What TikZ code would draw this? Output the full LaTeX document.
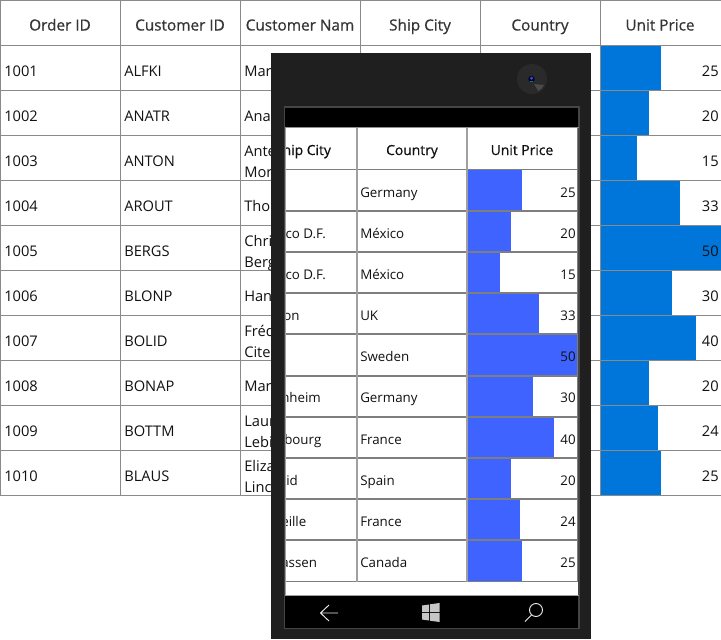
\documentclass[tikz,border=0pt]{standalone}
\usepackage{fontspec}
\setmainfont{Open Sans}
\newfontfamily\semib[FakeBold=0.6]{Open Sans}
\definecolor{gridc}{HTML}{8A8A8A}
\definecolor{gridi}{HTML}{A0A0A0}
\definecolor{gridh}{HTML}{7E7E7E}
\definecolor{barout}{HTML}{0076DA}
\definecolor{barin}{HTML}{3F63FF}
\definecolor{phone}{HTML}{1F1F1F}
\definecolor{rim}{HTML}{454545}
\definecolor{txt}{HTML}{111111}
\tikzset{
  outcell/.style={anchor=base west,inner sep=0pt,font=\fontsize{11pt}{13pt}\selectfont,text=txt},
  outval/.style={anchor=base east,inner sep=0pt,font=\fontsize{11pt}{13pt}\selectfont,text=txt},
  outhead/.style={anchor=base,inner sep=0pt,font=\fontsize{11.5pt}{13pt}\selectfont\semib,text=txt!85!white},
  incell/.style={anchor=base west,inner sep=0pt,font=\fontsize{10pt}{12pt}\selectfont,text=txt},
  inval/.style={anchor=base east,inner sep=0pt,font=\fontsize{10pt}{12pt}\selectfont,text=txt},
  inhead/.style={anchor=base,inner sep=0pt,font=\fontsize{10.4pt}{12pt}\selectfont\semib,text=txt},
  navicon/.style={draw=white!85!gray,line width=0.7pt},
}
\begin{document}
\begin{tikzpicture}[x=0.75pt,y=-0.75pt]
\useasboundingbox (0,0) rectangle (721,639);
\fill[white] (0,0) rectangle (721,639);
% outer bars
\foreach \r/\e in {0/661,1/649,2/637,3/680,4/721,5/672,6/696,7/649,8/658,9/661}
  \fill[barout] (601,45+45*\r) rectangle (\e,90+45*\r);
% outer grid
\foreach \x in {0.5,120.5,240.5,360.5,480.5,600.5}
  \draw[gridc,line width=0.75pt] (\x,0) -- (\x,495.5);
\foreach \y in {0.5,45.5,90.5,135.5,180.5,225.5,270.5,315.5,360.5,405.5,450.5,495.5}
  \draw[gridc,line width=0.75pt] (0,\y) -- (721,\y);
% outer header
\node[outhead] (h1) at (60,30.5) {Order ID};
\node[outhead] (h2) at (180,30.5) {Customer ID};
\node[outhead] (h3) at (300,30.5) {Customer Nam};
\node[outhead] (h4) at (420,30.5) {Ship City};
\node[outhead] (h5) at (540,30.5) {Country};
\node[outhead] (h6) at (660,30.5) {Unit Price};
% outer rows
\foreach \r/\a/\b/\v in {0/1001/ALFKI/25,1/1002/ANATR/20,2/1003/ANTON/15,3/1004/AROUT/33,4/1005/BERGS/50,5/1006/BLONP/30,6/1007/BOLID/40,7/1008/BONAP/20,8/1009/BOTTM/24,9/1010/BLAUS/25}{
  \node[outcell] (oid\r) at (4,76+45*\r) {\a};
  \node[outcell] (cid\r) at (124,76+45*\r) {\b};
  \node[outval] (val\r) at (719,76+45*\r) {\v};
}
\foreach \n/\y/\t in {a/76/Mar,b/121/Ana,c/156/Ante,d/177/Mor,e/211/Tho,f/246/Chri,g/267/Berg,h/301/Han,i/336/Fréd,j/357/Cite,k/391/Mar,l/426/Laur,m/447/Lebi,n/471/Eliza,o/492/Linc}
  \node[outcell] (nm\n) at (244,\y) {\t};
% phone body
\fill[phone] (271,53) rectangle (591,639);
\fill[black] (284.5,107) rectangle (579,628.5);
\draw[rim,line width=0.9pt] (284.5,107) rectangle (579,628.5);
\fill[white] (286,127) rectangle (578,596);
% camera
\fill[white,opacity=0.05] (532,79) circle (15);
\fill[gray!45!phone] (534,84) -- (544,85) arc (25:62:13) -- cycle;
\fill[black!80!blue] (531.5,79) circle (3.2);
\fill[blue!45!gray] (531.5,78.2) circle (1.7);
\fill[teal] (530,81) rectangle (533,82.3);
% inner bars
\foreach \r/\e in {0/522,1/511,2/500,3/539,4/577,5/533,6/554,7/511,8/520,9/522}
  \fill[barin] (467,170+41.1*\r) rectangle (\e,211.1+41.1*\r);
% inner grid
\draw[rim!60!white,line width=1.1pt] (285,127.5) -- (579,127.5);
\foreach \y in {169.5,211,252,293,334,376,417,458,499,540,581.5}
  \draw[gridh,line width=0.9pt] (286,\y) -- (577.5,\y);
\foreach \x in {357,467}
  \draw[gridi,line width=1.2pt] (\x,127.5) -- (\x,581.5);
\draw[gridh,line width=1pt] (577.5,127.5) -- (577.5,581.5);
\draw[gridi,line width=0.8pt] (285.5,127.5) -- (285.5,596);
\draw[gridi,line width=0.8pt] (285,595.7) -- (579,595.7);
% clipped first column
\begin{scope}
\clip (286,128) rectangle (356,596);
\node[inhead] (ph0) at (303,155) {Ship City};
\node[incell] (pcb) at (282,238) {ico D.F.};
\node[incell] (pcc) at (282,279) {ico D.F.};
\node[incell] (pcd) at (283,320) {on};
\node[incell] (pcf) at (281,402) {nheim};
\node[incell] (pcg) at (284,444) {bourg};
\node[incell] (pch) at (286,485) {id};
\node[incell] (pci) at (281,526) {eille};
\node[incell] (pcj) at (281,567) {assen};
\end{scope}
\node[inhead] (ph1) at (412,155) {Country};
\node[inhead] (ph2) at (522,155) {Unit Price};
\foreach \r/\c/\v in {0/Germany/25,1/México/20,2/México/15,3/UK/33,4/Sweden/50,5/Germany/30,6/France/40,7/Spain/20,8/France/24,9/Canada/25}{
  \node[incell] (pco\r) at (360,197.4+41.1*\r) {\c};
  \node[inval] (pva\r) at (576,197.4+41.1*\r) {\v};
}
% nav bar icons
\draw[navicon] (338,613) -- (321,613) (329,605) -- (320.5,613) -- (329,621);
\fill[gray!45] (422,605.5) -- (429,604.5) -- (429,612) -- (422,612) -- cycle
  (430,604.3) -- (439.5,603) -- (439.5,612) -- (430,612) -- cycle
  (422,613) -- (429,613) -- (429,620.5) -- (422,619.5) -- cycle
  (430,613) -- (439.5,613) -- (439.5,622) -- (430,620.7) -- cycle;
\draw[navicon] (536,610) circle (6.5);
\draw[navicon] (531.5,615) -- (525,621.5);
\end{tikzpicture}
\end{document}
